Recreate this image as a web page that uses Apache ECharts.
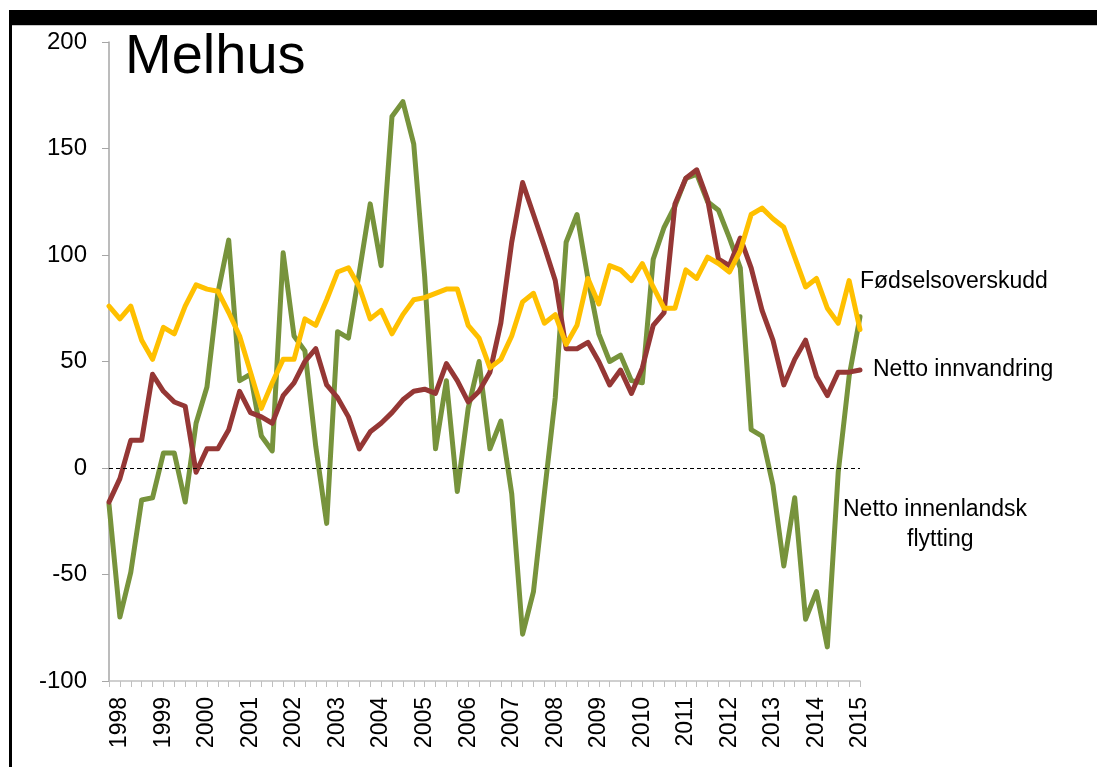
<!DOCTYPE html>
<html>
<head>
<meta charset="utf-8">
<script src="https://cdn.jsdelivr.net/npm/echarts@6/dist/echarts.min.js"></script>
<style>
  html, body { margin: 0; padding: 0; background: #ffffff; }
  #chart { width: 1103px; height: 767px; }
</style>
</head>
<body>
<div id="chart"></div>
<script>
// Quarterly series, 1997K4 .. 2015K1 (rolling values, persons)
const quarters = [];
for (let y = 1997; y <= 2015; y++) {
  for (let q = 1; q <= 4; q++) {
    if ((y === 1997 && q < 4) || (y === 2015 && q > 1)) continue;
    quarters.push(y + 'K' + q);
  }
}

const yTicks = [-100, -50, 0, 50, 100, 150, 200];

const innenlandsk = [
  -17, -70, -49, -15, -14, 7, 7, -16, 21, 38,
  82, 107, 41, 44, 15, 8, 101, 62, 55, 10,
  -26, 64, 61, 92, 124, 95, 165, 172, 152, 90,
  9, 41, -11, 28, 50, 9, 22, -12, -78, -58,
  -12, 33, 106, 119, 89, 63, 50, 53, 41, 40,
  98, 113, 123, 136, 138, 125, 121, 108, 94, 18,
  15, -8, -46, -14, -71, -58, -84, -2, 43, 71
];

const innvandring = [
  -16, -5, 13, 13, 44, 36, 31, 29, -2, 9,
  9, 18, 36, 26, 24, 21, 34, 40, 50, 56,
  39, 33, 24, 9, 17, 21, 26, 32, 36, 37,
  35, 49, 41, 31, 36, 45, 68, 106, 134, 119,
  104, 88, 56, 56, 59, 50, 39, 46, 35, 47,
  67, 73, 124, 136, 140, 126, 98, 95, 108, 94,
  74, 60, 39, 51, 60, 43, 34, 45, 45, 46
];

const fodsel = [
  76, 70, 76, 60, 51, 66, 63, 76, 86, 84,
  83, 73, 62, 45, 28, 40, 51, 51, 70, 67,
  79, 92, 94, 85, 70, 74, 63, 72, 79, 80,
  82, 84, 84, 67, 61, 47, 51, 62, 78, 82,
  68, 72, 58, 67, 89, 77, 95, 93, 88, 96,
  85, 75, 75, 93, 89, 99, 96, 92, 102, 119,
  122, 117, 113, 99, 85, 89, 75, 68, 88, 65
];

const seriesNames = ['Netto innenlandsk flytting', 'Netto innvandring', 'Fødselsoverskudd'];
const colors = ['#77933C', '#953735', '#FFC000'];

const FONT = '"Liberation Sans", Arial, sans-serif';
const chart = echarts.init(document.getElementById('chart'), null, { renderer: 'canvas' });

function lineSeries(name, data, color, extra) {
  return Object.assign({
    name: name,
    type: 'line',
    data: data,
    symbol: 'none',
    smooth: false,
    lineStyle: { color: color, width: 5, join: 'round', cap: 'round' },
    itemStyle: { color: color },
    animation: false
  }, extra || {});
}

chart.setOption({
  backgroundColor: '#ffffff',
  animation: false,
  grid: { left: 109, right: 243, top: 42, bottom: 86 },
  xAxis: {
    type: 'category',
    data: quarters,
    boundaryGap: false,
    axisLine: { show: true, onZero: false, lineStyle: { color: '#c0c0c0', width: 1.5 } },
    axisTick: {
      show: true, interval: 0, length: 6, inside: false,
      lineStyle: { color: '#c0c0c0', width: 1 }
    },
    axisLabel: {
      interval: function (idx) { return quarters[idx].endsWith('K1'); },
      formatter: function (v) { return v.slice(0, 4); },
      rotate: 90,
      margin: 16,
      color: '#000000',
      fontSize: 23,
      fontFamily: FONT
    },
    splitLine: { show: false }
  },
  yAxis: {
    type: 'value',
    min: yTicks[0],
    max: yTicks[yTicks.length - 1],
    interval: 50,
    axisLine: { show: true, lineStyle: { color: '#a6a6a6', width: 1.5 } },
    axisTick: { show: true, length: 7, lineStyle: { color: '#a6a6a6' } },
    axisLabel: {
      color: '#000000', fontSize: 24, fontFamily: FONT, margin: 22
    },
    splitLine: { show: false }
  },
  series: [
    lineSeries(seriesNames[0], innenlandsk, colors[0], {
      markLine: {
        silent: true,
        symbol: 'none',
        label: { show: false },
        lineStyle: { color: '#000000', type: [4, 3], width: 1 },
        data: [{ yAxis: 0 }],
        animation: false
      }
    }),
    lineSeries(seriesNames[1], innvandring, colors[1]),
    lineSeries(seriesNames[2], fodsel, colors[2])
  ],
  graphic: [
    // frame: heavy bar along the top, thin rule down the left side
    { type: 'rect', shape: { x: 9, y: 10, width: 1088, height: 15 }, style: { fill: '#000000' } },
    { type: 'rect', shape: { x: 9, y: 25, width: 1088, height: 1 }, style: { fill: '#c8c8c8' } },
    { type: 'rect', shape: { x: 9, y: 10, width: 3, height: 757 }, style: { fill: '#000000' } },
    // title
    {
      type: 'text', left: 125, top: 30,
      style: { text: 'Melhus', font: '56px ' + FONT, fill: '#000000' }
    },
    // series labels beside the line ends
    {
      type: 'text', left: 860, top: 270,
      style: { text: 'Fødselsoverskudd', font: '23px ' + FONT, fill: '#000000' }
    },
    {
      type: 'text', left: 873, top: 358,
      style: { text: 'Netto innvandring', font: '23px ' + FONT, fill: '#000000' }
    },
    {
      type: 'text', left: 843, top: 498,
      style: { text: 'Netto innenlandsk', font: '23px ' + FONT, fill: '#000000' }
    },
    {
      type: 'text', left: 907, top: 528,
      style: { text: 'flytting', font: '23px ' + FONT, fill: '#000000' }
    }
  ]
});
</script>
</body>
</html>
